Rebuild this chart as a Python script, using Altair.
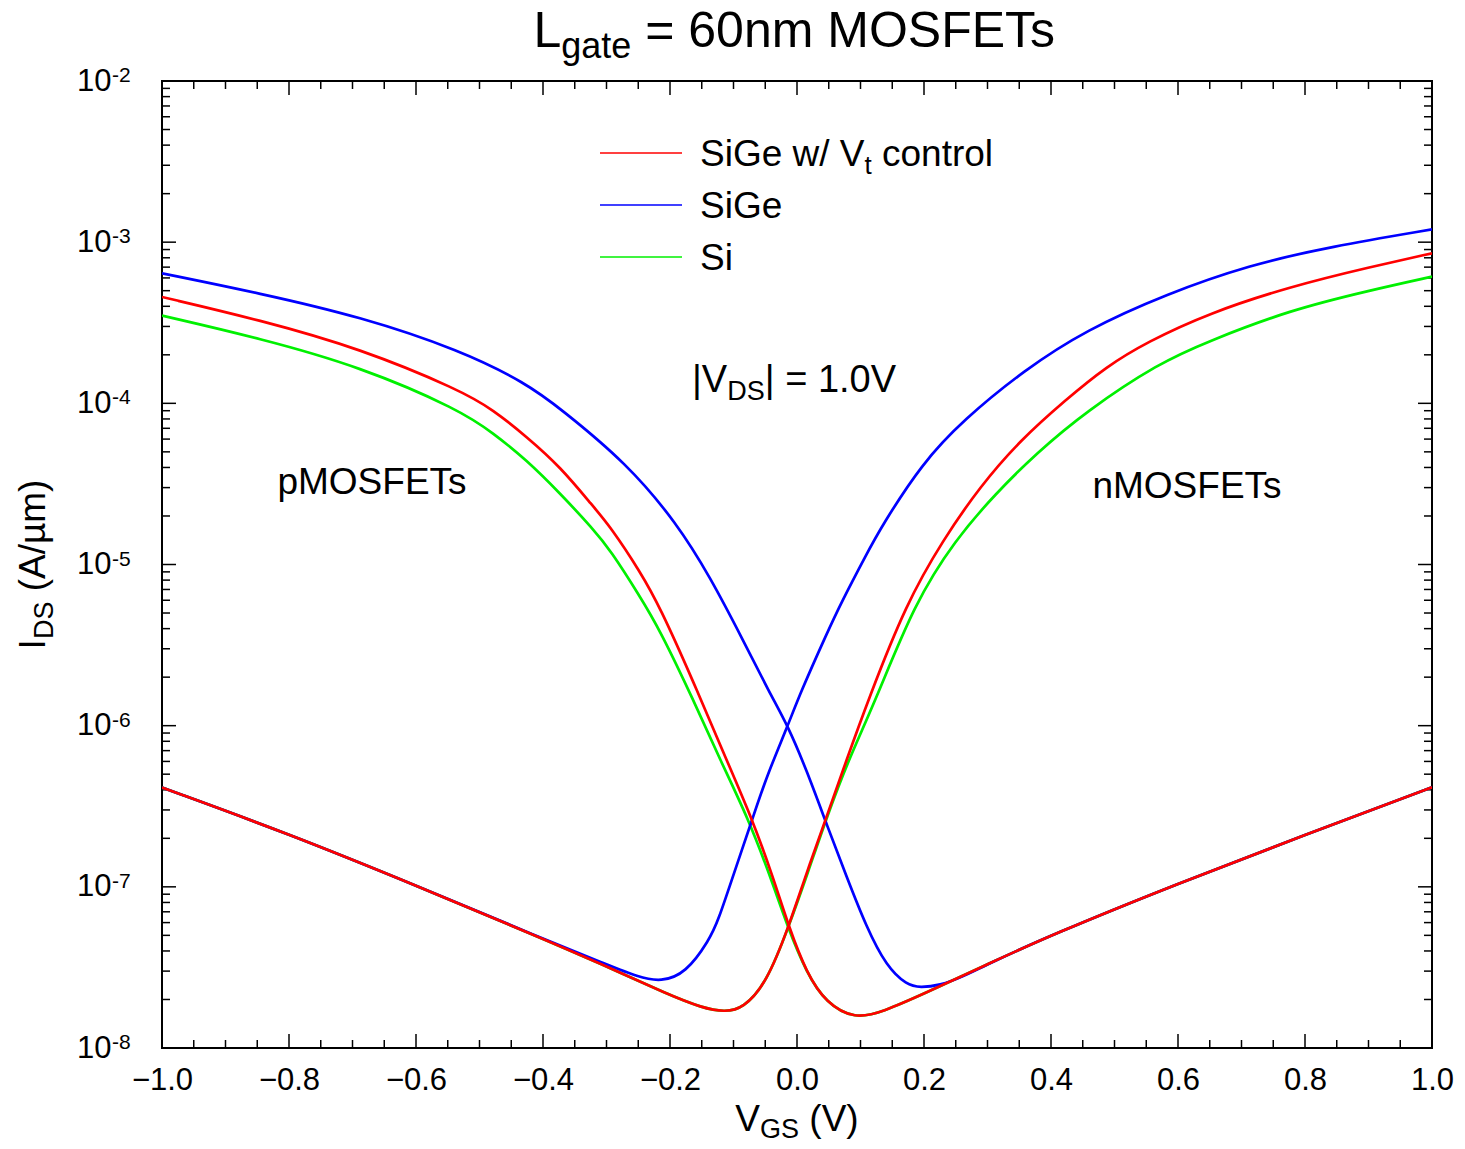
import altair as alt
import pandas as pd

FONT = "Liberation Sans"
W, H = 1270, 967

# ---------------- data ----------------
# SiGe w/ Vt control (red)
red_p_vgs = [-1.0, -0.846, -0.688, -0.531, -0.478, -0.426, -0.373, -0.321, -0.294, -0.247, -0.216, -0.163,
             -0.111, -0.072, -0.038, -0.013, 0.015, 0.046, 0.091, 0.136, 0.2, 0.3, 0.4, 0.6, 0.8, 1.0]
red_p_ids = [4.57e-4, 3.29e-4, 2.19e-4, 1.21e-4, 9.10e-5, 6.21e-5, 4.05e-5, 2.29e-5, 1.72e-5, 9.04e-6, 5.47e-6, 1.87e-6,
             6.12e-7, 2.72e-7, 1.16e-7, 5.66e-8, 2.92e-8, 1.90e-8, 1.51e-8, 1.68e-8, 2.17e-8, 3.31e-8, 5.02e-8, 1.05e-7, 2.10e-7, 4.15e-7]
red_n_vgs = [-1.0, -0.8, -0.6, -0.4, -0.312, -0.2, -0.15, -0.114, -0.085, -0.048, -0.013, 0.015, 0.044, 0.078,
             0.112, 0.172, 0.23, 0.288, 0.352, 0.423, 0.487, 0.551, 0.648, 0.776, 0.905, 1.0]
red_n_ids = [4.13e-7, 2.13e-7, 1.02e-7, 4.76e-8, 3.37e-8, 2.12e-8, 1.78e-8, 1.67e-8, 1.76e-8, 2.53e-8, 5.66e-8, 1.22e-7, 2.54e-7, 6.12e-7,
             1.44e-6, 5.74e-6, 1.42e-5, 3.04e-5, 5.93e-5, 1.05e-4, 1.69e-4, 2.40e-4, 3.62e-4, 5.30e-4, 7.05e-4, 8.53e-4]

# SiGe (blue)
blue_p_vgs = [-1.0, -0.846, -0.688, -0.531, -0.426, -0.373, -0.268, -0.189, -0.137, -0.085, -0.043, -0.015,
              0.015, 0.046, 0.078, 0.109, 0.141, 0.173, 0.194, 0.225, 0.26, 0.3, 0.4, 0.6, 0.8, 1.0]
blue_p_ids = [6.41e-4, 4.82e-4, 3.45e-4, 2.14e-4, 1.33e-4, 9.31e-5, 4.25e-5, 1.80e-5, 8.39e-6, 3.40e-6, 1.59e-6, 1.01e-6,
              5.31e-7, 2.48e-7, 1.16e-7, 5.66e-8, 3.20e-8, 2.46e-8, 2.37e-8, 2.45e-8, 2.75e-8, 3.31e-8, 5.02e-8, 1.05e-7, 2.10e-7, 4.15e-7]
blue_n_vgs = [-1.0, -0.8, -0.6, -0.4, -0.3, -0.25, -0.214, -0.175, -0.138, -0.124, -0.101, -0.069, -0.048, -0.014,
              0.005, 0.047, 0.069, 0.11, 0.133, 0.197, 0.262, 0.358, 0.455, 0.583, 0.712, 0.84, 1.0]
blue_n_ids = [4.13e-7, 2.13e-7, 1.02e-7, 4.76e-8, 3.31e-8, 2.75e-8, 2.57e-8, 2.91e-8, 4.68e-8, 6.19e-8, 1.16e-7, 2.72e-7, 4.83e-7, 1.01e-6,
              1.59e-6, 3.74e-6, 5.74e-6, 1.17e-5, 1.72e-5, 4.25e-5, 7.89e-5, 1.61e-4, 2.85e-4, 4.79e-4, 7.21e-4, 9.38e-4, 1.20e-3]

# Si (green)
green_p_vgs = [-1.0, -0.846, -0.688, -0.531, -0.478, -0.426, -0.373, -0.321, -0.294, -0.247, -0.216, -0.163,
               -0.121, -0.078, -0.042, -0.015, 0.015, 0.046, 0.091, 0.136, 0.2, 0.3, 0.4, 0.6, 0.8, 1.0]
green_p_ids = [3.50e-4, 2.53e-4, 1.69e-4, 9.10e-5, 6.52e-5, 4.45e-5, 2.76e-5, 1.66e-5, 1.23e-5, 6.31e-6, 3.93e-6, 1.44e-6,
               6.12e-7, 2.72e-7, 1.16e-7, 5.66e-8, 2.92e-8, 1.90e-8, 1.51e-8, 1.68e-8, 2.17e-8, 3.31e-8, 5.02e-8, 1.05e-7, 2.10e-7, 4.15e-7]
green_n_vgs = [-1.0, -0.8, -0.6, -0.4, -0.312, -0.2, -0.15, -0.114, -0.085, -0.048, -0.013, 0.017, 0.047, 0.081,
               0.124, 0.185, 0.249, 0.313, 0.377, 0.455, 0.57, 0.648, 0.776, 0.905, 1.0]
green_n_ids = [4.13e-7, 2.13e-7, 1.02e-7, 4.76e-8, 3.37e-8, 2.12e-8, 1.78e-8, 1.67e-8, 1.76e-8, 2.53e-8, 5.66e-8, 1.22e-7, 2.72e-7, 6.12e-7,
               1.44e-6, 5.74e-6, 1.42e-5, 2.76e-5, 4.90e-5, 8.91e-5, 1.78e-4, 2.43e-4, 3.79e-4, 5.05e-4, 6.11e-4]

series_keys = ["Si", "SiGe", "SiGe w/ Vt control"]          # drawing order
series_colors = {"SiGe w/ Vt control": "#ff0000", "SiGe": "#0000ff", "Si": "#00f000"}

# tick values / labels
x_major = [-1.0, -0.8, -0.6, -0.4, -0.2, 0.0, 0.2, 0.4, 0.6, 0.8, 1.0]
x_minor = [round(-1.0 + 0.05 * k, 2) for k in range(41) if k % 4 != 0]
y_major = [1e-8, 1e-7, 1e-6, 1e-5, 1e-4, 1e-3, 1e-2]
y_exponents = ["-8", "-7", "-6", "-5", "-4", "-3", "-2"]
y_minor = [m * 10.0 ** e for e in range(-8, -2) for m in range(2, 10)]

# texts (pieces: text, role) role: 'm' main, 's' subscript
title_pieces = [("L", "m"), ("gate", "s"), (" = 60nm MOSFETs", "m")]
xtitle_pieces = [("V", "m"), ("GS", "s"), (" (V)", "m")]
ytitle_pieces = [("I", "m"), ("DS", "s"), (" (A/\u00b5m)", "m")]
vds_pieces = [("|V", "m"), ("DS", "s"), ("| = 1.0V", "m")]
legend_pieces = [[("SiGe w/ V", "m"), ("t", "s"), (" control", "m")], [("SiGe", "m")], [("Si", "m")]]
legend_series = ["SiGe w/ Vt control", "SiGe", "Si"]
p_label = "pMOSFETs"
n_label = "nMOSFETs"

# ---------------- build table ----------------
rows = []
for name, parts in [
    ("SiGe w/ Vt control", [("p", red_p_vgs, red_p_ids), ("n", red_n_vgs, red_n_ids)]),
    ("SiGe", [("p", blue_p_vgs, blue_p_ids), ("n", blue_n_vgs, blue_n_ids)]),
    ("Si", [("p", green_p_vgs, green_p_ids), ("n", green_n_vgs, green_n_ids)]),
]:
    for dev, vs, ids in parts:
        for v, i in zip(vs, ids):
            rows.append({"series": name, "device": dev, "vgs": v, "ids": i})
df = pd.DataFrame(rows)

xscale = alt.Scale(domain=[-1, 1], nice=False, zero=False)
yscale = alt.Scale(type="log", domain=[1e-8, 1e-2], nice=False)

xaxis = alt.Axis(values=x_major, format=".1f", labelFont=FONT, labelFontSize=31, labelColor="black",
                 domain=False, ticks=False, tickSize=0, grid=False, labelPadding=17,
                 labelFlush=False, labelOverlap=False)
yaxis = alt.Axis(values=y_major, labelExpr="'10'", labelFont=FONT, labelFontSize=31, labelColor="black",
                 domain=False, ticks=False, tickSize=0, grid=False, labelPadding=51,
                 labelFlush=False, labelOverlap=False)

X = lambda f: alt.X(f, scale=xscale, axis=xaxis, title=None)
Y = lambda f: alt.Y(f, scale=yscale, axis=yaxis, title=None)

layers = []

# tick marks (inward, on all four sides)
def xtick_layers(vals, length):
    d = pd.DataFrame({"v": vals})
    b = alt.Chart(d).mark_rule(color="black", strokeWidth=1.5)
    return [b.encode(x=X("v:Q"), y=alt.value(H), y2=alt.value(H - length)),
            b.encode(x=X("v:Q"), y=alt.value(0), y2=alt.value(length))]

def ytick_layers(vals, length):
    d = pd.DataFrame({"v": vals})
    b = alt.Chart(d).mark_rule(color="black", strokeWidth=1.5)
    return [b.encode(y=Y("v:Q"), x=alt.value(0), x2=alt.value(length)),
            b.encode(y=Y("v:Q"), x=alt.value(W), x2=alt.value(W - length))]

layers += xtick_layers(x_major, 14) + xtick_layers(x_minor, 8)
layers += ytick_layers(y_major, 14) + ytick_layers(y_minor, 8)

# exponents of the y tick labels
exp_df = pd.DataFrame({"v": y_major, "e": y_exponents})
layers.append(alt.Chart(exp_df).mark_text(font=FONT, fontSize=21, align="left", baseline="alphabetic",
                                          color="black", dy=1)
              .encode(y=Y("v:Q"), x=alt.value(-50), text="e:N"))

# curves
for key in series_keys:
    layers.append(
        alt.Chart(df[df.series == key]).mark_line(color=series_colors[key], strokeWidth=2.7,
                                                  interpolate="basis", clip=True)
        .encode(x=X("vgs:Q"), y=Y("ids:Q"), detail="device:N", order="vgs:Q")
    )

# ---------------- text helpers ----------------
CW = {' ': 278, '(': 333, ')': 333, '/': 278, '=': 584, '|': 260, '.': 278, '0': 556, '1': 556, '6': 556,
      'A': 667, 'D': 722, 'E': 667, 'F': 611, 'G': 778, 'I': 278, 'L': 556, 'M': 833, 'O': 778, 'S': 667,
      'T': 611, 'V': 667, 'a': 556, 'c': 500, 'e': 556, 'g': 556, 'i': 222, 'l': 222, 'm': 833, 'n': 556,
      'o': 556, 'p': 556, 'r': 333, 's': 500, 't': 278, 'w': 722, '\u00b5': 576, '\u2212': 584}


def tw(s, fs):
    return sum(CW.get(c, 556) for c in s) * fs / 1000.0


one = alt.Data(values=[{}])


def text_layer(txt, x, y, fs, angle=0, align="left"):
    kw = dict(text=txt, font=FONT, fontSize=fs, align=align, baseline="alphabetic", color="black")
    if angle:
        kw["angle"] = angle
    return alt.Chart(one).mark_text(**kw).encode(x=alt.value(x), y=alt.value(y))


def rich(pieces, x0, y0, fm, fsub, shift, rotate=False, center=False):
    out = []
    total = sum(tw(t, fm if r == "m" else fsub) for t, r in pieces)
    pos = -total / 2 if center else 0
    for t, r in pieces:
        fs = fm if r == "m" else fsub
        sh = shift if r == "s" else 0
        lead = len(t) - len(t.lstrip(" "))
        pos += tw(" " * lead, fs)          # leading spaces become an offset
        body = t.lstrip(" ")
        if rotate:
            out.append(text_layer(body, x0 + sh, y0 - pos, fs, angle=270))
        else:
            out.append(text_layer(body, x0 + pos, y0 + sh, fs))
        pos += tw(body, fs)
    return out


# title
layers += rich(title_pieces, W / 2, -34, 50, 36, 11, center=True)
# x axis title
layers += rich(xtitle_pieces, W / 2, 1050, 37, 27, 7, center=True)
# y axis title (rotated, reading upward)
layers += rich(ytitle_pieces, -117, H / 2, 37, 27, 8, rotate=True, center=True)
# annotations
layers += rich(vds_pieces, 530, 311, 38, 27, 8)
layers.append(text_layer(p_label, 210, 413, 37, align="center"))
layers.append(text_layer(n_label, 1025, 417, 37, align="center"))

# legend
for k, (name, pieces) in enumerate(zip(legend_series, legend_pieces)):
    ly = 72 + 52 * k
    layers.append(alt.Chart(one).mark_rule(color=series_colors[name], strokeWidth=1.5)
                  .encode(x=alt.value(438), x2=alt.value(520), y=alt.value(ly)))
    layers += rich(pieces, 538, ly + 13, 37, 26, 8)

chart = (
    alt.layer(*layers)
    .properties(width=W, height=H,
                padding={"left": 154, "top": 73, "right": 25, "bottom": 93},
                autosize=alt.AutoSizeParams(type="none"))
    .configure(font=FONT)
    .configure_view(stroke="black", strokeWidth=2)
)

chart.save("out.html", embed_options={"renderer": "svg", "actions": False})
